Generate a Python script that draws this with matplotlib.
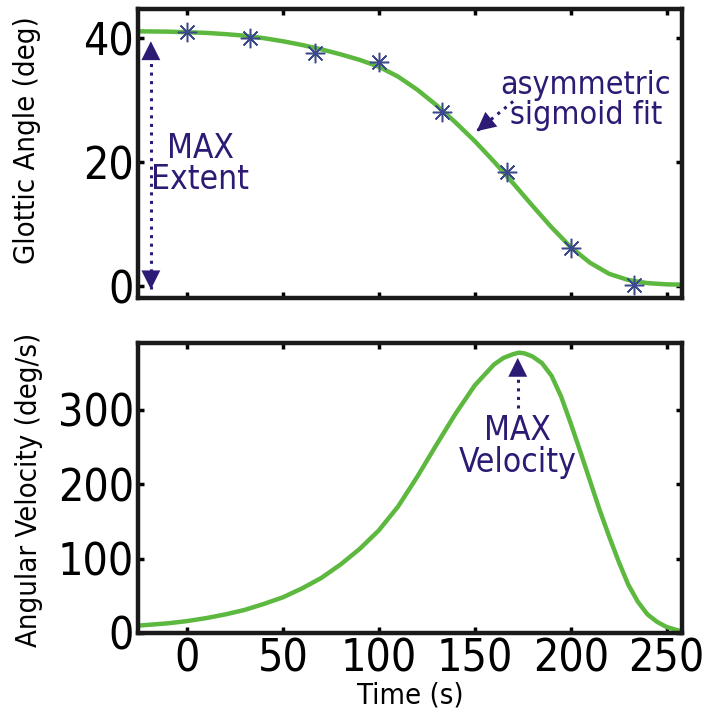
import matplotlib
matplotlib.use("Agg")
import matplotlib.pyplot as plt
from matplotlib import font_manager

# Measured glottic angle samples
sample_time = [0, 33, 67, 100, 133, 167, 200, 233]
sample_angle = [41.0, 40.0, 37.6, 36.1, 28.1, 18.4, 6.1, 0.2]

# Fitted asymmetric sigmoid curve
fit_time = [-25, -10, 0, 10, 20, 30, 40, 50, 60, 70, 80, 90, 100, 110, 120,
            130, 140, 150, 160, 170, 180, 190, 200, 210, 220, 230, 240, 250, 258]
fit_angle = [41.1, 41.05, 40.95, 40.85, 40.65, 40.4, 40.0, 39.5, 38.9, 38.2,
             37.4, 36.5, 35.4, 33.8, 31.7, 29.2, 26.4, 23.4, 20.1, 16.6, 13.0,
             9.5, 6.3, 3.8, 2.0, 1.0, 0.5, 0.3, 0.25]

# Angular velocity of the fit
vel_time = [-25, -20, -10, 0, 10, 20, 30, 40, 50, 60, 70, 80, 90, 100, 110,
            120, 130, 140, 150, 160, 165, 170, 173, 176, 180, 185, 190, 195,
            200, 205, 210, 215, 220, 225, 230, 235, 240, 245, 250, 258]
vel_value = [10, 11, 13, 16, 20, 25, 31, 39, 48, 60, 74, 92, 113, 138, 170,
             210, 253, 295, 333, 361, 370, 375, 377, 376, 372, 363, 346, 318,
             282, 244, 205, 166, 130, 96, 65, 42, 25, 15, 8, 2]

x_ticks = [0, 50, 100, 150, 200, 250]
angle_ticks = [0, 20, 40]
vel_ticks = [0, 100, 200, 300]

installed = {f.name for f in font_manager.fontManager.ttflist}
family = "Liberation Sans Narrow" if "Liberation Sans Narrow" in installed else "DejaVu Sans"
plt.rcParams["font.family"] = [family, "DejaVu Sans"]
plt.rcParams["font.stretch"] = "condensed"

GREEN = "#5cb83e"
STAR = "#3c4a8c"
NOTE = "#2c1a74"

fig = plt.figure(figsize=(7.05, 7.28), dpi=100)
ax1 = fig.add_axes([138 / 705, 1 - 298 / 728, 544 / 705, 289 / 728])
ax2 = fig.add_axes([138 / 705, 1 - 633 / 728, 544 / 705, 290 / 728])

for ax in (ax1, ax2):
    ax.set_xlim(-25.5, 258)
    ax.set_xticks(x_ticks)
    ax.tick_params(direction="in", length=4, width=2.5, top=True, right=True,
                   labelsize=32, pad=3)
    for s in ax.spines.values():
        s.set_linewidth(3.2)
        s.set_color("#1a1a1a")


def pointer(ax, tip, tail, both=False):
    """Dotted leader line with solid triangular head(s)."""
    ax.plot([tail[0], tip[0]], [tail[1], tip[1]], linestyle=(0, (1, 1.8)),
            lw=2.2, color=NOTE, zorder=4)
    ends = [(tip, tail)] + ([(tail, tip)] if both else [])
    for head, base in ends:
        ax.annotate("", xy=head, xytext=base,
                    arrowprops=dict(arrowstyle="-|>", lw=0, color=NOTE,
                                    mutation_scale=34, shrinkA=0, shrinkB=0,
                                    linestyle="-"),
                    zorder=5)


# Top panel: angle
ax1.plot(fit_time, fit_angle, color=GREEN, lw=3.2, zorder=2)
ax1.plot(sample_time, sample_angle, linestyle="none", marker=(8, 2, 0),
         markersize=14, markeredgewidth=1.1, color=STAR, zorder=3)
ax1.set_ylim(-1.9, 44.7)
ax1.set_yticks(angle_ticks)
ax1.set_xticklabels([])
ax1.set_ylabel("Glottic Angle (deg)", fontsize=21)
ax1.yaxis.set_label_coords(-0.178, 0.547)

pointer(ax1, (-18.8, 39.5), (-18.8, -0.5), both=True)
ax1.text(7, 19.7, "MAX\nExtent", ha="center", va="center", fontsize=24,
         color=NOTE, linespacing=0.95)

pointer(ax1, (151, 25.0), (170, 29.8))
ax1.text(208, 30.0, "asymmetric\nsigmoid fit", ha="center", va="center",
         fontsize=23, color=NOTE, linespacing=0.95)

# Bottom panel: angular velocity
ax2.plot(vel_time, vel_value, color=GREEN, lw=3.2, zorder=2)
ax2.set_ylim(0, 390)
ax2.set_yticks(vel_ticks)
ax2.set_ylabel("Angular Velocity (deg/s)", fontsize=21)
ax2.yaxis.set_label_coords(-0.175, 0.493)
ax2.set_xlabel("Time (s)", fontsize=21, labelpad=1)

pointer(ax2, (172.4, 370), (172.4, 303))
ax2.text(172.4, 251, "MAX\nVelocity", ha="center", va="center", fontsize=24,
         color=NOTE, linespacing=0.95)

fig.savefig("out.png", dpi=100)
